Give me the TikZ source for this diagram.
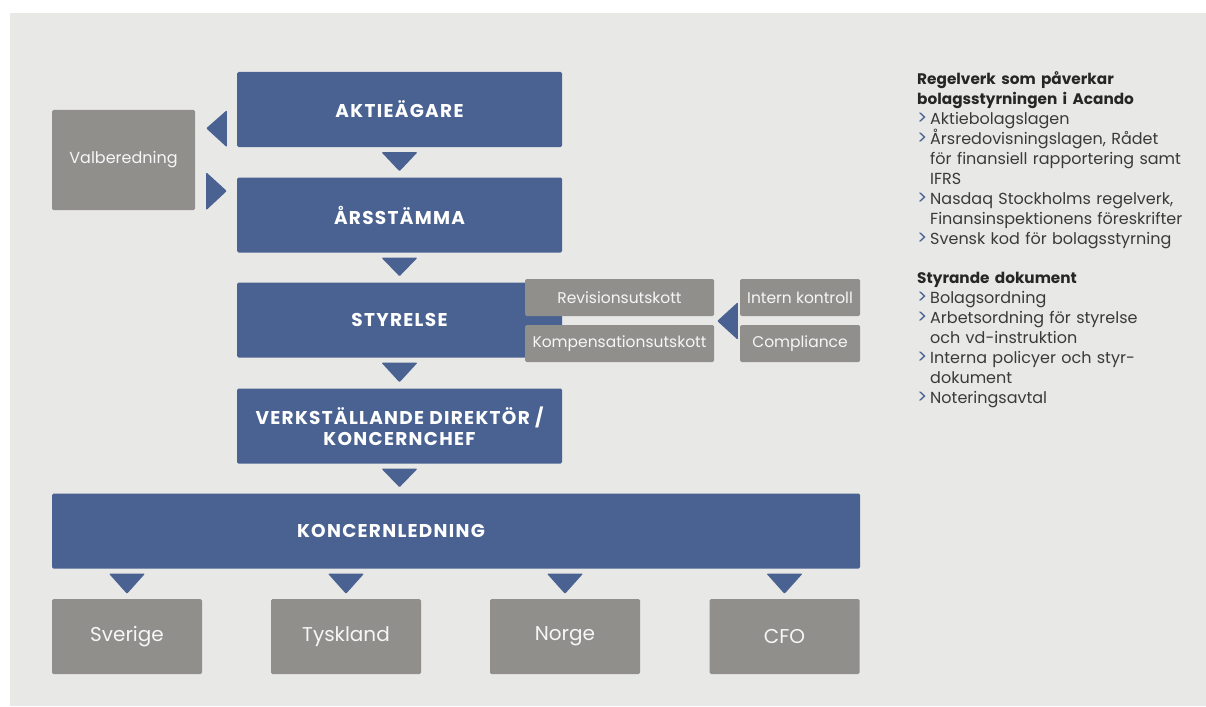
\documentclass[tikz,border=0pt]{standalone}
\usepackage{fontspec}
\setmainfont{Poppins}
\newfontfamily\capsfont[LetterSpace=7]{Poppins}
\usepackage{xcolor}
\usepackage{tikz}
\usetikzlibrary{positioning,calc}

\definecolor{acblue}{HTML}{4A6291}
\definecolor{acgray}{HTML}{918F8C}
\definecolor{acbg}{HTML}{E8E8E6}
\definecolor{actext}{HTML}{3A3A3A}
\definecolor{achead}{HTML}{262626}
\setlength{\parindent}{0pt}

\tikzset{
    headfont/.style={font=\capsfont\bfseries\fontsize{18.5}{21}\selectfont},
    bluebox/.style={fill=acblue, rounded corners=1.5pt, inner sep=0pt,
        minimum width=325pt, minimum height=75pt, text=white, align=center, headfont},
    graybox/.style={fill=acgray, rounded corners=1.5pt, inner sep=0pt,
        text=white!92!acgray, font=\fontsize{16}{18}\selectfont},
    smallbox/.style={graybox, minimum height=37pt, font=\fontsize{15.5}{17}\selectfont},
    unitbox/.style={graybox, minimum width=150pt, minimum height=75pt,
        font=\fontsize{20}{24}\selectfont},
    tri/.style={fill=acblue, rounded corners=1pt}
}

% down-pointing triangle between two boxes
\newcommand{\downtri}[2]{%
    \fill[tri] ($(#1.south)+(-18,5)$) -- ($(#1.south)+(18,5)$) -- ($(#1.south |- #2.north)+(0,-6)$) -- cycle;}
\newcommand{\regitem}[1]{\par\hangindent=13pt\hangafter=1\noindent
    \makebox[13pt][l]{\textcolor{acblue}{\fontsize{19}{20}\selectfont\raisebox{-0.5pt}{>}}}#1}

\begin{document}
\begin{tikzpicture}[x=1pt, y=-1pt]
    \useasboundingbox (0,0) rectangle (1206,706);
    \fill[acbg] (10,13) rectangle (1206,706);

    % main chain
    \node[bluebox] (akt) at (399.5,109.5) {AKTIEÄGARE};
    \node[bluebox] (ars) at (399.5,215) {ÅRSSTÄMMA};
    \node[bluebox] (sty) at (399.5,320) {STYRELSE};
    \node[bluebox] (vd) at (399.5,426) {VERKSTÄLLANDE DIREKTÖR /\\KONCERNCHEF};
    \node[bluebox, minimum width=808pt,
        label={[headfont, text=white, xshift=-65pt]center:KONCERNLEDNING}] (kl) at (456,531) {};

    \node[graybox, minimum width=143pt, minimum height=100pt] (val) at (123.5,160) {Valberedning};

    % committees
    \node[smallbox, minimum width=189pt] (rev) at (619.5,297.5) {Revisionsutskott};
    \node[smallbox, minimum width=189pt] (komp) at (619.5,343.5) {Kompensationsutskott};
    \node[smallbox, minimum width=120pt] (ik) at (800,297.5) {Intern kontroll};
    \node[smallbox, minimum width=120pt] (comp) at (800,343.5) {Compliance};

    % units
    \node[unitbox] (se) at (127,636.5) {Sverige};
    \node[unitbox] (de) at (346,636.5) {Tyskland};
    \node[unitbox] (no) at (565,636.5) {Norge};
    \node[unitbox] (cfo) at (784.5,636.5) {CFO};

    % arrows
    \downtri{akt}{ars}
    \downtri{ars}{sty}
    \downtri{sty}{vd}
    \downtri{vd}{kl}
    \foreach \u in {se,de,no,cfo}
        \fill[tri] ($(kl.south -| \u)+(-18,5)$) -- ($(kl.south -| \u)+(18,5)$) -- ($(\u.north)+(0,-5)$) -- cycle;
    \fill[tri] ($(akt.south west)+(-10,0)$) -- ($(akt.south west)+(-10,-37)$) -- ($(val.north east)+(11,18.5)$) -- cycle;
    \fill[tri] ($(val.south east)+(11,0)$) -- ($(val.south east)+(11,-38)$) -- ($(ars.west)+(-10,-24)$) -- cycle;
    \fill[tri] ($(ik.south west)+(-2,-14)$) -- ($(comp.north west)+(-2,15)$) -- ($(rev.east)+(3,23.5)$) -- cycle;

    % rules text
    \node[anchor=north west, inner sep=0pt, text width=290pt, align=left, text=actext,
        font=\fontsize{16}{20}\selectfont] (rules) at (917,71) {%
        {\color{achead}\fontsize{15.3}{20}\selectfont\bfseries Regelverk som påverkar\newline bolagsstyrningen i Acando}
        \regitem{Aktiebolagslagen}
        \regitem{Årsredovisningslagen, Rådet\newline för finansiell rapportering samt\newline IFRS}
        \regitem{Nasdaq Stockholms regelverk,\newline Finansinspektionens föreskrifter}
        \regitem{Svensk kod för bolagsstyrning}
        \par\vspace{19pt}
        {\color{achead}\fontsize{15.3}{20}\selectfont\bfseries Styrande dokument}
        \regitem{Bolagsordning}
        \regitem{Arbetsordning för styrelse\newline och vd-instruktion}
        \regitem{Interna policyer och styr-\newline dokument}
        \regitem{Noteringsavtal}};
\end{tikzpicture}
\end{document}
